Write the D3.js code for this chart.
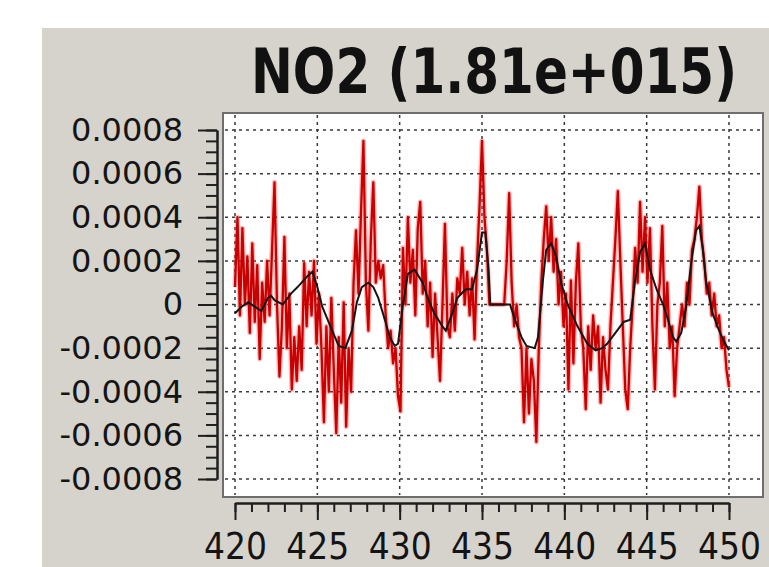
<!DOCTYPE html>
<html>
<head>
	<script type="text/javascript" src="https://d3js.org/d3.v7.min.js"></script>
	<style type="text/css">
		body { margin: 0; background: #fff; }
		.grid line { stroke: #3a3a3a; stroke-width: 1.5px; stroke-dasharray: 3,4; }
		.ruler path, .ruler line { stroke: #1e1e1e; stroke-width: 2px; }
		.ruler text { fill: #141414; }
	</style>
</head>
<body>
<script type="text/javascript">

var width = 769,
	height = 567;

// axis values
var xMajorTicks = [420, 425, 430, 435, 440, 445, 450];
var yMajorTicks = [0.0008, 0.0006, 0.0004, 0.0002, 0, -0.0002, -0.0004, -0.0006, -0.0008];

// red curve, sampled every 0.15 nm from 420 to 450
var redValues = [
	0.00008, 0.0004, -0.00005, 0.00035, 0.0, 0.00022, -0.00013, 0.00028, -0.00008, 0.00018, -0.00025,
	0.0001, -0.00008, 0.0002, -0.00005, 0.00025, 0.00056, 0.0, -0.00033,
	-0.0001, 0.00031, -0.0002, 0.00005, -0.00039, -0.00015, -0.00035, -0.0001, -0.0003,
	0.00019, -0.0001, 0.00015, -0.00005, 0.0002, -0.00018, 0.00005, -0.0002,
	-0.00054, -0.0001, -0.0004, 0.00003, -0.0003, -0.00059, -0.00015, -0.00045, 0.00001, -0.00056, -0.0002, -0.0004, 0.0001,
	0.00034, 0.00005, 0.00042, 0.00075, 0.0001, -0.00012, 0.0003, 0.00056, 0.0001, 0.0002, 0.00012,
	0.00018, -0.00005, -0.0002, -0.00012, -0.00027, -0.0002, -0.00042, -0.00049,
	0.00026, 0.0, 0.0004, 0.0001, 0.00025, -0.00005, 0.00035, 0.00047, 0.00005, 0.0002,
	-0.0001, 0.0001, -0.00024, 0.00005, -0.00015, -0.00035, 0.0, 0.00037, -0.0001, -0.00015,
	0.00005, -0.00012, 0.00012, 0.00005, 0.00026, 0.0, 0.00015, -0.00005, 0.00012, -0.00016,
	0.0002, 0.00045, 0.00075, 0.0004, 0.00025, 0.0,
	0, 0, 0, 0, 0, 0,
	0.0002, 0.00051, 0.0001, -0.0001, 0.0, -0.00015, -0.0002, -0.00054, -0.0002, -0.0005, -0.00025, -0.00035, -0.00063, -0.0002,
	0.0001, 0.0003, 0.00045, 0.0002, 0.0004, 0.00015, 0.0003, 0.0, 0.00015, -0.0001, 0.00005,
	-0.00039, 0.00011, -0.00027, 0.0001, 0.00028, -0.0001, -0.0002, -0.00048, -0.0001, -0.0003, -0.00005,
	-0.0002, -0.0001, -0.00045, -0.00015, -0.0003, -0.00039, -0.0001, 0.0001, 0.0003, 0.00052, 0.0002,
	-0.0001, -0.00039, -0.00048, -0.0002, 0.0, 0.00026, 0.0001, 0.00047, 0.00015, 0.0004, 0.0001,
	0.00035, -0.0001, -0.00039, 0.0, 0.0001, 0.00036, -0.0001, 0.0001, -0.0002, -0.0001, -0.00042,
	-0.0002, -0.0001, 0.0, -0.0001, 0.0001, 0.0, 0.00025, 0.0003, 0.0004, 0.00054, 0.0003,
	0.0002, 0.00005, 0.0001, -0.00005, 0.00005, -0.0001, -0.00005, -0.0002, -0.00015, -0.0003, -0.00038
];

// black (fitted) curve
var blackWavelengths = [
	420.0, 420.4, 420.8, 421.2, 421.6, 422.0, 422.2, 422.4, 422.9, 423.4, 423.8, 424.4, 424.7, 425.0, 425.3,
	425.9, 426.3, 426.7, 427.1, 427.4, 427.7, 428.1, 428.4, 428.7, 429.1, 429.4, 429.7, 429.9, 430.2, 430.5,
	430.9, 431.4, 431.7, 432.1, 432.6, 432.8, 433.2, 433.5, 434.0, 434.4, 434.7, 435.0, 435.2, 435.4, 435.5,
	436.7, 437.0, 437.4, 437.7, 438.2, 438.4, 438.7, 438.9, 439.2, 439.5, 439.8, 440.2, 440.8, 441.4, 441.9,
	442.3, 442.6, 443.1, 443.6, 444.0, 444.3, 444.6, 444.9, 445.2, 445.6, 446.0, 446.3, 446.6, 446.8, 447.1,
	447.4, 447.7, 448.0, 448.2, 448.4, 448.6, 449.0, 449.4, 449.7, 450.0
];
var blackValues = [
	-0.00004, -0.00001, 0.00001, -0.00001, -0.00003, 0.00003, 0.00004, 0.00002, 0.0, 0.00005, 0.00008, 0.00013, 0.00015, 0.00008, -0.00001,
	-0.00012, -0.00019, -0.0002, -0.00012, 0.00001, 0.00008, 0.0001, 0.00008, 0.00003, -0.00007, -0.00015, -0.00019, -0.00018, 0.0, 0.00014,
	0.00016, 0.0001, 0.00003, -0.00004, -0.0001, -0.00012, -0.00004, 0.00003, 0.00007, 0.00007, 0.00016, 0.00033, 0.00033, 0.00016, 0.0,
	0.0, -0.00007, -0.00015, -0.00019, -0.0002, -0.00015, 0.00011, 0.00025, 0.00028, 0.00022, 0.0001, 0.0, -0.0001, -0.00018, -0.00021,
	-0.0002, -0.00018, -0.00013, -0.00008, -0.00007, 0.00011, 0.00024, 0.00028, 0.00016, 0.00007, 0.0, -0.00007, -0.00015, -0.00017, -0.00013,
	-0.00001, 0.00019, 0.00034, 0.00036, 0.00026, 0.00011, -0.00004, -0.00012, -0.00017, -0.00021
];

var plotLeft = 223, plotTop = 113, plotRight = 763, plotBottom = 497;

var x = d3.scaleLinear().domain([420, 450]).range([235, 729]);
var y = d3.scaleLinear().domain([-0.0008, 0.0008]).range([479, 130]);

var svg = d3.select("body").append("svg")
	.attr("width", width)
	.attr("height", height);

// gray panel
svg.append("rect")
	.attr("x", 42).attr("y", 28)
	.attr("width", width - 42).attr("height", height - 28)
	.attr("fill", "#d6d3cc");

// title, stretched vertically like the original
svg.append("text")
	.attr("transform", "translate(251,93) scale(1,1.32)")
	.attr("textLength", 486)
	.attr("lengthAdjust", "spacingAndGlyphs")
	.style("font-family", "'DejaVu Sans', Verdana, sans-serif")
	.style("font-weight", "bold")
	.style("font-size", "47px")
	.attr("fill", "#111")
	.text("NO2 (1.81e+015)");

// plot area
svg.append("rect")
	.attr("x", plotLeft).attr("y", plotTop)
	.attr("width", plotRight - plotLeft).attr("height", plotBottom - plotTop)
	.attr("fill", "#fff")
	.attr("stroke", "#6e6e6e")
	.attr("stroke-width", 2);

var grid = svg.append("g").attr("class", "grid");

grid.selectAll("line.h")
	.data(yMajorTicks)
  .enter().append("line")
	.attr("class", "h")
	.attr("x1", plotLeft + 2).attr("x2", plotRight - 2)
	.attr("y1", function(d) { return y(d); })
	.attr("y2", function(d) { return y(d); });

grid.selectAll("line.v")
	.data(xMajorTicks)
  .enter().append("line")
	.attr("class", "v")
	.attr("y1", plotTop + 2).attr("y2", plotBottom - 2)
	.attr("x1", function(d) { return x(d); })
	.attr("x2", function(d) { return x(d); });

var redLine = d3.line()
	.x(function(d, i) { return x(420 + i * 30 / (redValues.length - 1)); })
	.y(function(d) { return y(d); });

// soft halo then the red trace
svg.append("path")
	.attr("d", redLine(redValues))
	.attr("fill", "none")
	.attr("stroke", "#ff3030")
	.attr("stroke-opacity", 0.35)
	.attr("stroke-width", 5)
	.attr("stroke-linejoin", "round");

svg.append("path")
	.attr("d", redLine(redValues))
	.attr("fill", "none")
	.attr("stroke", "#c80000")
	.attr("stroke-width", 2.3)
	.attr("stroke-linejoin", "round");

var blackLine = d3.line()
	.x(function(d, i) { return x(blackWavelengths[i]); })
	.y(function(d) { return y(d); });

svg.append("path")
	.attr("d", blackLine(blackValues))
	.attr("fill", "none")
	.attr("stroke", "#151515")
	.attr("stroke-width", 2);

// x ruler
var xRuler = svg.append("g").attr("class", "ruler").attr("transform", "translate(0,503)");

xRuler.call(d3.axisBottom(x)
	.tickValues(d3.range(420, 451, 1))
	.tickSize(9)
	.tickSizeOuter(0)
	.tickFormat(""));

xRuler.append("g").call(d3.axisBottom(x)
	.tickValues(xMajorTicks)
	.tickSize(17)
	.tickSizeOuter(0)
	.tickPadding(13)
	.tickFormat(d3.format("d")))
  .selectAll("text")
	.attr("textLength", 63)
	.attr("lengthAdjust", "spacingAndGlyphs")
	.style("font-family", "'DejaVu Sans Condensed', 'DejaVu Sans', sans-serif")
	.style("font-size", "37px");

// y ruler
var yRuler = svg.append("g").attr("class", "ruler").attr("transform", "translate(217,0)");

yRuler.call(d3.axisLeft(y)
	.tickValues(d3.range(-16, 17).map(function(k) { return k * 0.00005; }))
	.tickSize(11)
	.tickSizeOuter(0)
	.tickFormat(""));

yRuler.append("g").call(d3.axisLeft(y)
	.tickValues(yMajorTicks)
	.tickSize(19)
	.tickSizeOuter(0)
	.tickPadding(15)
	.tickFormat(function(d) { return d === 0 ? "0" : d.toFixed(4); }))
  .selectAll("text")
	.style("font-family", "'DejaVu Sans', Verdana, sans-serif")
	.style("font-size", "32px");

</script>
</body>
</html>
